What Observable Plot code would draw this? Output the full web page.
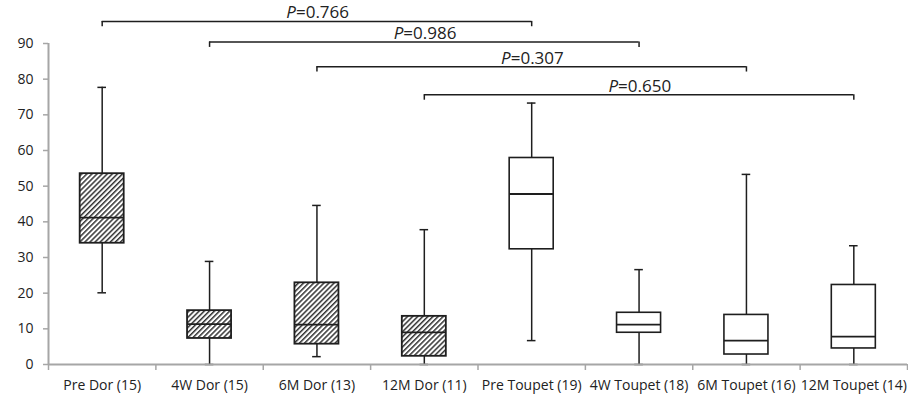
<!DOCTYPE html>
<html><head><meta charset="utf-8">
<script src="https://cdn.jsdelivr.net/npm/d3@7"></script>
<script src="https://cdn.jsdelivr.net/npm/@observablehq/plot@0.6"></script>
<style>body{margin:0;background:#fff}</style>
</head><body><div id="chart"></div>
<script>
// ---- data ----
const categories = ["Pre Dor (15)", "4W Dor (15)", "6M Dor (13)", "12M Dor (11)",
                    "Pre Toupet (19)", "4W Toupet (18)", "6M Toupet (16)", "12M Toupet (14)"];
const groups      = ["Dor", "Dor", "Dor", "Dor", "Toupet", "Toupet", "Toupet", "Toupet"];
const whiskerLow  = [20.1, 0, 2.2, 0, 6.7, 0, 0, 0];
const q1          = [34.0, 7.3, 5.7, 2.3, 32.3, 8.9, 2.8, 4.5];
const median      = [41.2, 11.3, 11.2, 9.0, 47.8, 11.2, 6.7, 7.8];
const q3          = [53.5, 15.1, 22.9, 13.5, 57.9, 14.5, 13.9, 22.3];
const whiskerHigh = [77.7, 28.9, 44.6, 37.8, 73.3, 26.6, 53.3, 33.3];
const yTicks      = [0, 10, 20, 30, 40, 50, 60, 70, 80, 90];
// comparisons (bracket from/to category index, bracket level in y units, P value)
const compFrom  = [0, 1, 2, 3];
const compTo    = [4, 5, 6, 7];
const compLevel = [96.2, 90.4, 83.5, 75.6];
const compP     = ["0.766", "0.986", "0.307", "0.650"];

// ---- tables built from the arrays ----
const boxes = categories.map((c, i) => ({
  x: i + 0.5, cat: c, group: groups[i],
  lo: whiskerLow[i], q1: q1[i], med: median[i], q3: q3[i], hi: whiskerHigh[i]
}));
const comps = compFrom.map((f, i) => ({
  a: f + 0.5, b: compTo[i] + 0.5, level: compLevel[i], p: "=" + compP[i]
}));

const half = 0.205, cap = 0.04, drop = 1.5;
const ink = "#1e1e1e", axisGrey = "#a6a6a6";
const dor = boxes.filter(d => d.group === "Dor");
const toupet = boxes.filter(d => d.group === "Toupet");

const svg = Plot.plot({
  width: 908, height: 397,
  marginLeft: 48, marginRight: 1, marginTop: 43, marginBottom: 33,
  style: {fontFamily: "'Open Sans', sans-serif", fontSize: "14px", color: "#222", background: "#fff"},
  x: {type: "linear", domain: [0, 8], axis: null},
  y: {domain: [0, 90], axis: null},
  marks: [
    // whiskers
    Plot.ruleX(boxes, {x: "x", y1: "q3", y2: "hi", stroke: ink, strokeWidth: 1.5}),
    Plot.ruleX(boxes, {x: "x", y1: "lo", y2: "q1", stroke: ink, strokeWidth: 1.5}),
    Plot.ruleY(boxes, {y: "hi", x1: d => d.x - cap, x2: d => d.x + cap, stroke: ink, strokeWidth: 1.5}),
    Plot.ruleY(boxes, {y: "lo", x1: d => d.x - cap, x2: d => d.x + cap, stroke: ink, strokeWidth: 1.5}),
    // boxes
    Plot.rect(dor, {x1: d => d.x - half, x2: d => d.x + half, y1: "q1", y2: "q3",
      fill: "url(#hatch)", stroke: ink, strokeWidth: 1.8}),
    Plot.rect(toupet, {x1: d => d.x - half, x2: d => d.x + half, y1: "q1", y2: "q3",
      fill: "#fff", stroke: ink, strokeWidth: 1.6}),
    Plot.ruleY(boxes, {y: "med", x1: d => d.x - half, x2: d => d.x + half, stroke: ink, strokeWidth: 1.8}),
    // axes
    Plot.ruleX([0], {y1: 0, y2: 90, stroke: axisGrey, strokeWidth: 2}),
    Plot.ruleY([0], {x1: 0, x2: 8, stroke: axisGrey, strokeWidth: 2}),
    Plot.axisY({ticks: yTicks, tickSize: 5, tickPadding: 10, stroke: axisGrey, strokeWidth: 1.5, fill: "#222"}),
    Plot.axisX({ticks: d3.range(0, 9), tickSize: 6, tickFormat: () => "", stroke: axisGrey, strokeWidth: 1.5}),
    Plot.axisX({ticks: boxes.map(d => d.x), tickSize: 0, tickPadding: 16,
      tickFormat: v => categories[Math.floor(v)], fill: "#222"}),
    // comparison brackets
    Plot.ruleY(comps, {y: "level", x1: "a", x2: "b", stroke: ink, strokeWidth: 1.5}),
    Plot.ruleX(comps, {x: "a", y1: "level", y2: d => d.level - drop, stroke: ink, strokeWidth: 1.5}),
    Plot.ruleX(comps, {x: "b", y1: "level", y2: d => d.level - drop, stroke: ink, strokeWidth: 1.5}),
    Plot.text(comps, {x: d => (d.a + d.b) / 2, y: "level", text: () => "P", fontStyle: "italic",
      textAnchor: "end", lineAnchor: "bottom", dy: -3, dx: -21, fontSize: 17, fill: "#222"}),
    Plot.text(comps, {x: d => (d.a + d.b) / 2, y: "level", text: "p",
      textAnchor: "start", lineAnchor: "bottom", dy: -3, dx: -21, fontSize: 17, fill: "#222"})
  ]
});

// hatch pattern definition
const defs = d3.select(svg).insert("defs", ":first-child");
const pat = defs.append("pattern").attr("id", "hatch")
  .attr("patternUnits", "userSpaceOnUse").attr("width", 3.6).attr("height", 10)
  .attr("patternTransform", "rotate(45)");
pat.append("rect").attr("width", 3.6).attr("height", 10).attr("fill", "#fff");
pat.append("rect").attr("width", 1.5).attr("height", 10).attr("fill", "#333");

document.getElementById("chart").appendChild(svg);
</script>
</body></html>
